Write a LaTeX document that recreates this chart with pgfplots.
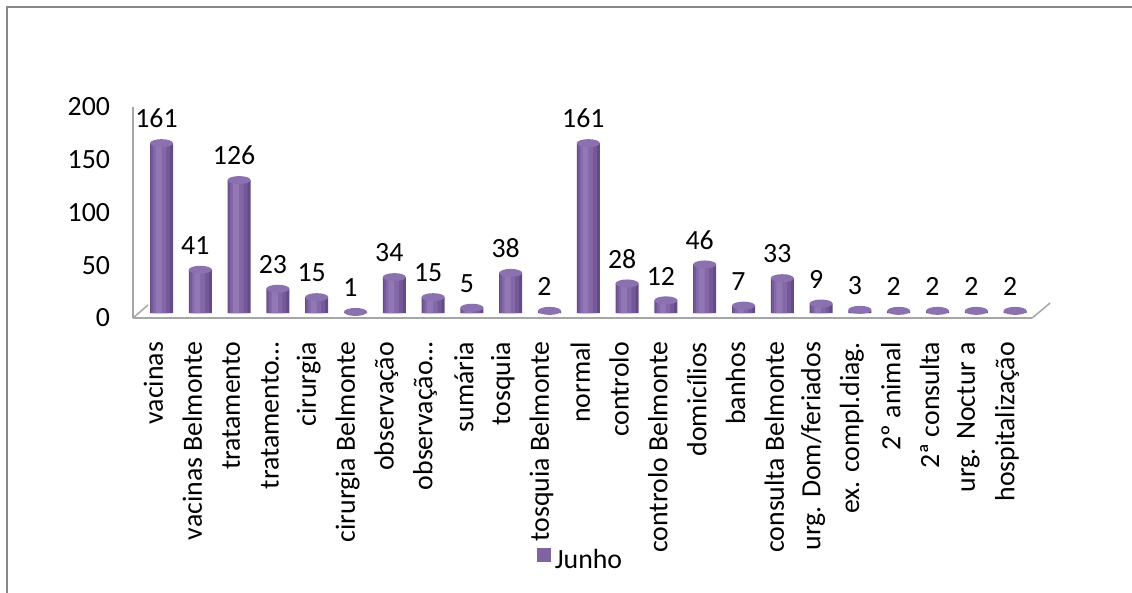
\documentclass[border=0pt]{standalone}
\usepackage{fontspec}
\setmainfont{Carlito}
\usepackage{pgfplots}
\usepackage{pgfplotstable}
\pgfplotsset{compat=1.18}
\definecolor{barmain}{HTML}{8064A2}
\definecolor{b1}{HTML}{654A88}
\definecolor{b2}{HTML}{745999}
\definecolor{b3}{HTML}{8367A6}
\definecolor{b4}{HTML}{9178B4}
\definecolor{capc}{HTML}{8C71B0}
\definecolor{framegray}{HTML}{888888}
\definecolor{axisgray}{HTML}{A6A6A6}
\pgfdeclareplotmark{cap}{\pgfpathellipse{\pgfpointorigin}{\pgfpoint{5.75pt}{0pt}}{\pgfpoint{0pt}{2pt}}\pgfusepathqfill}
\pgfplotstableread{
x y
0 161
1 41
2 126
3 23
4 15
5 1
6 34
7 15
8 5
9 38
10 2
11 161
12 28
13 12
14 46
15 7
16 33
17 9
18 3
19 2
20 2
21 2
22 2
}\datatable
\begin{document}
\begin{tikzpicture}
\useasboundingbox (0,0) rectangle (566pt,-296.5pt);
\draw[framegray, line width=1pt] (3.25pt,-296.5pt) -- (3.25pt,-3.75pt) -- (566pt,-3.75pt);
\begin{axis}[
  at={(66.5pt,-159pt)}, anchor=south west, scale only axis,
  width=449.6pt, height=105.5pt,
  xmin=-0.735, xmax=22.44, ymin=0, ymax=200,
  clip=false,
  axis x line*=bottom, axis y line*=left,
  axis line style={axisgray, line width=0.75pt, -},
  ytick={0,50,100,150,200},
  xtick={0,...,22},
  xticklabels={vacinas, vacinas Belmonte, tratamento, tratamento…, cirurgia, cirurgia Belmonte, observação, observação…, sumária, tosquia, tosquia Belmonte, normal, controlo, controlo Belmonte, domicílios, banhos, consulta Belmonte, urg. Dom/feriados, ex. compl.diag., 2º animal, 2ª consulta, urg. Noctur a, hospitalização},
  major tick length=0pt,
  tick style={draw=none},
  font=\fontsize{13.9}{16}\selectfont,
  /pgf/number format/assume math mode=true,
  yticklabel style={xshift=-8pt},
  xticklabel style={xshift=-4pt, yshift=-8.5pt, rotate=90, anchor=east},
  legend style={draw=none, fill=none, at={(axis description cs:0.499,0)}, anchor=center, yshift=-121pt, font=\fontsize{13.9}{16}\selectfont, inner sep=0pt},
  legend image code/.code={\fill[barmain] (0pt,-3.4pt) rectangle (6.8pt,3.4pt);},
]
\addplot[ybar, bar width=11.5pt, bar shift=0pt, draw=none, fill=b1, yshift=2.5pt] table[x=x,y=y] {\datatable};
\addlegendentry{Junho}
\addplot[ybar, bar width=9.5pt, bar shift=-0.5pt, draw=none, fill=b2, yshift=2.5pt, forget plot] table[x=x,y=y] {\datatable};
\addplot[ybar, bar width=6.5pt, bar shift=-1pt, draw=none, fill=b3, yshift=2.5pt, forget plot] table[x=x,y=y] {\datatable};
\addplot[ybar, bar width=3pt, bar shift=-1.5pt, draw=none, fill=b4, yshift=2.5pt, forget plot] table[x=x,y=y] {\datatable};
\addplot[only marks, mark=cap, mark options={fill=capc, draw=none}, yshift=2.5pt, forget plot,
  nodes near coords,
  every node near coord/.append style={font=\fontsize{13.9}{16}\selectfont, text=black, xshift=-2.5pt, yshift=4pt, anchor=south}]
  table[x=x,y=y] {\datatable};
\draw[axisgray, line width=0.75pt] (rel axis cs:1,0) -- ++(9pt,7.5pt);
\draw[axisgray, line width=0.75pt] (rel axis cs:0,0) -- ++(7.5pt,6.5pt);
\end{axis}
\end{tikzpicture}
\end{document}
